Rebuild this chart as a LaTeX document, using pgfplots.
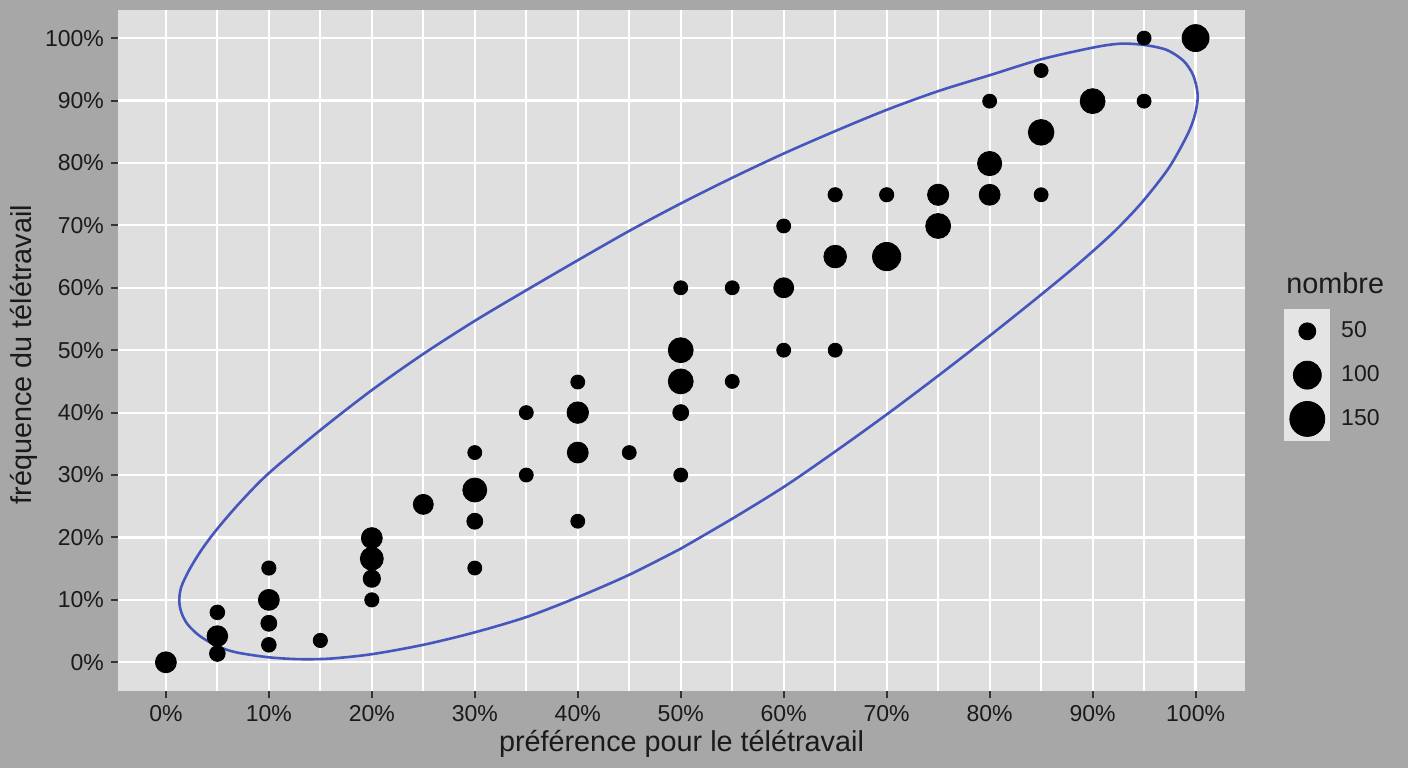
\documentclass[border=0pt]{standalone}
\usepackage{fontspec}
\setmainfont{Liberation Sans}
\usepackage{pgfplots}
\usepackage{pgfplotstable}
\pgfplotsset{compat=1.18}
\definecolor{outerbg}{HTML}{A7A7A7}
\definecolor{panelbg}{HTML}{DFDFDF}
\definecolor{keybg}{HTML}{E4E4E4}
\definecolor{ellcol}{HTML}{4557BC}
\definecolor{txt}{HTML}{1A1A1A}
\definecolor{tickcol}{HTML}{333333}

\pgfplotstableread{
x y n
0 0 112
5 8.0 55
5 4.2 109
5 1.4 63
10 15.1 52
10 10.0 112
10 6.25 65
10 2.8 55
15 3.5 52
20 19.9 112
20 16.6 135
20 13.4 77
20 10.0 52
25 25.3 102
30 33.6 50
30 27.6 147
30 22.6 65
30 15.1 50
35 40.0 50
35 30.0 50
40 44.9 50
40 40.0 118
40 33.6 112
40 22.6 50
45 33.6 50
50 60.0 50
50 50.0 159
50 45.0 159
50 40.0 65
50 30.0 50
55 60.0 50
55 45.0 50
60 69.9 50
60 60.0 102
60 50.0 50
65 74.9 52
65 65.0 131
65 50.0 50
70 74.9 52
70 65.0 204
75 74.9 115
75 69.9 159
80 89.9 50
80 79.9 150
80 74.9 112
85 94.8 50
85 84.9 168
85 74.9 50
90 89.9 159
95 100 50
95 89.9 50
100 100 186
}\pointsdata

\pgfplotstableread{
x y
50.0 18.2
55.1 23.1
60.2 28.3
65.2 34.0
70.0 39.7
75.0 45.9
80.0 52.3
85.0 58.9
88.8 64.1
92.1 69.0
94.8 73.7
97.4 79.2
99.2 84.5
99.9 87.5
100.2 90.2
100.1 92.1
99.7 94.3
98.8 96.4
97.2 98.1
95.0 98.9
92.7 99.1
90.1 98.5
85.0 96.6
80.1 94.1
75.0 91.5
70.0 88.5
65.0 85.1
60.0 81.5
55.1 77.7
50.0 73.5
45.1 69.2
40.1 64.5
35.1 59.7
30.0 54.7
25.0 49.4
20.0 43.6
15.0 37.2
10.0 30.3
7.2 25.6
5.0 21.4
3.5 18.1
2.3 14.9
1.5 12.1
1.3 9.9
1.5 8.0
2.1 6.1
3.3 4.2
5.0 2.6
6.8 1.6
10.0 0.8
13.0 0.5
16.0 0.6
20.0 1.3
25.0 2.8
30.0 4.8
35.1 7.3
40.1 10.5
45.1 14.1
50.0 18.2
}\ellipsedata

\begin{document}
\begin{tikzpicture}
\fill[outerbg] (0,0) rectangle (704pt,384pt);
\begin{axis}[
  at={(59pt,38.5pt)}, anchor=south west,
  scale only axis, width=563.5pt, height=340.5pt,
  xmin=-4.65, xmax=104.8, ymin=-4.6, ymax=104.5,
  clip=false,
  axis background/.style={fill=panelbg},
  axis line style={draw=none},
  xtick={0,10,...,100}, minor xtick={5,15,...,95},
  ytick={0,10,...,100},
  xticklabels={0\%,10\%,20\%,30\%,40\%,50\%,60\%,70\%,80\%,90\%,100\%},
  yticklabels={0\%,10\%,20\%,30\%,40\%,50\%,60\%,70\%,80\%,90\%,100\%},
  grid=both,
  major grid style={white, line width=1.1pt},
  minor grid style={white, line width=1.1pt},
  tick align=outside, tick pos=left,
  major tick length=3.5pt, minor tick length=0pt,
  every tick/.style={tickcol, line width=1pt},
  tick label style={font=\fontsize{11.5}{13}\selectfont, text=txt},
  xlabel={préférence pour le télétravail},
  ylabel={fréquence du télétravail},
  label style={font=\fontsize{14.4}{17}\selectfont, text=txt},
  xlabel style={at={(axis description cs:0.5,-0.0881)}, anchor=base},
  ylabel style={at={(axis description cs:-0.0835,0.494)}, anchor=center},
  legend style={at={(axis description cs:1.0346,0.5609)}, anchor=north west,
    draw=none, fill=none, inner sep=0pt, row sep=0pt,
    font=\fontsize{11.5}{13}\selectfont, text=txt,
    /tikz/every odd column/.append style={column sep=3.5pt}},
  legend cell align=left,
]
\addplot[scatter, only marks, mark=*, forget plot,
  point meta=\thisrow{n},
  scatter/use mapped color={draw=black, fill=black},
  visualization depends on={0.495*sqrt(\thisrow{n}) \as \rad},
  scatter/@pre marker code/.append style={/tikz/mark size=\rad}]
  table[x=x, y=y] {\pointsdata};
\addplot[smooth, ellcol, line width=1.3pt, forget plot] table[x=x, y=y] {\ellipsedata};

\addlegendimage{legend image code/.code={\fill[keybg] (-11.25pt,-10.75pt) rectangle (11.25pt,10.75pt); \fill[black] (0,0) circle (4.25pt);}}
\addlegendentry{50}
\addlegendimage{legend image code/.code={\fill[keybg] (-11.25pt,-10.75pt) rectangle (11.25pt,10.75pt); \fill[black] (0,0) circle (7pt);}}
\addlegendentry{100}
\addlegendimage{legend image code/.code={\fill[keybg] (-11.25pt,-10.75pt) rectangle (11.25pt,10.75pt); \fill[black] (0,0) circle (8.75pt);}}
\addlegendentry{150}

\node[anchor=base west, inner sep=0pt, font=\fontsize{14.4}{17}\selectfont, text=txt] at (axis description cs:1.0364,0.5844) {nombre};
\end{axis}
\end{tikzpicture}
\end{document}
